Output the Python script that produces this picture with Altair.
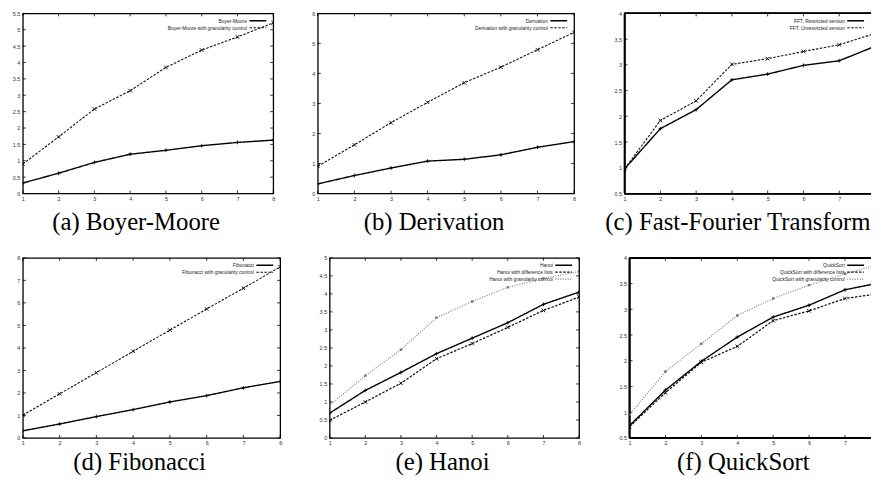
import altair as alt
import pandas as pd

x_vals = [1, 2, 3, 4, 5, 6, 7, 8]

# (a) Boyer-Moore
bm_names = ["Boyer-Moore", "Boyer-Moore with granularity control"]
bm_plain = [0.32, 0.62, 0.95, 1.20, 1.32, 1.46, 1.56, 1.63]
bm_gran = [0.90, 1.73, 2.58, 3.14, 3.85, 4.38, 4.78, 5.21]

# (b) Derivation
dv_names = ["Derivation", "Derivation with granularity control"]
dv_plain = [0.32, 0.60, 0.85, 1.08, 1.14, 1.29, 1.54, 1.73]
dv_gran = [0.91, 1.62, 2.36, 3.04, 3.69, 4.21, 4.79, 5.37]

# (c) FFT
fft_names = ["FFT, Restricted version", "FFT, Unrestricted version"]
fft_restr = [0.98, 1.76, 2.13, 2.71, 2.82, 2.99, 3.08, 3.36]
fft_unres = [0.98, 1.92, 2.30, 3.01, 3.12, 3.26, 3.39, 3.61]

# (d) Fibonacci
fib_names = ["Fibonacci", "Fibonacci with granularity control"]
fib_plain = [0.32, 0.62, 0.95, 1.26, 1.60, 1.88, 2.23, 2.51]
fib_gran = [1.01, 1.96, 2.90, 3.85, 4.79, 5.73, 6.65, 7.60]

# (e) Hanoi
han_names = ["Hanoi", "Hanoi with difference lists", "Hanoi with granularity control"]
han_plain = [0.69, 1.32, 1.82, 2.34, 2.77, 3.20, 3.71, 4.05]
han_diff = [0.49, 1.00, 1.52, 2.20, 2.62, 3.07, 3.54, 3.91]
han_gran = [0.91, 1.73, 2.45, 3.34, 3.79, 4.18, 4.43, 4.62]

# (f) QuickSort
qs_names = ["QuickSort", "QuickSort with difference lists", "QuickSort with granularity control"]
qs_plain = [0.74, 1.43, 1.99, 2.46, 2.85, 3.08, 3.38, 3.52]
qs_diff = [0.72, 1.38, 1.97, 2.28, 2.78, 2.97, 3.21, 3.31]
qs_gran = [0.95, 1.79, 2.33, 2.88, 3.21, 3.47, 3.69, 3.88]

captions = ["(a) Boyer-Moore", "(b) Derivation", "(c) Fast-Fourier Transform",
            "(d) Fibonacci", "(e) Hanoi", "(f) QuickSort"]

DASHES = [[1, 0], [2.5, 1.5], [1, 1.5]]
COLORS = ["#000000", "#111111", "#777777"]
WIDTHS = [1.4, 1.1, 0.9]
SHAPES = ["M-1,0L1,0M0,-1L0,1", "M-1,-1L1,1M-1,1L1,-1", "square"]
FILLED = [False, False, True]
H = 182
LABEL_FONT = "Liberation Sans"
CAP_FONT = "Liberation Serif, Times New Roman, Times, serif"


def frange(a, b, s):
    out = []
    v = a
    while v <= b + 1e-9:
        out.append(round(v, 3))
        v += s
    return out


def panel(caption, names, series, ymin, ymax, ystep, W, xmax=8, cap_offset=4, cap_dx=-12,
          open_right=False):
    rows = []
    for name, vals in zip(names, series):
        for x, v in zip(x_vals, vals):
            rows.append({"x": x, "y": v, "series": name})
    df = pd.DataFrame(rows)
    n = len(names)
    yticks = frange(ymin, ymax, ystep)
    xticks = [v for v in x_vals if v <= xmax]
    xs = alt.Scale(domain=[1, xmax], nice=False, zero=False)
    ys = alt.Scale(domain=[ymin, ymax], nice=False, zero=False)
    xaxis = alt.Axis(values=xticks, format="~g", title=None, domain=False, ticks=False,
                     grid=False, labelFontSize=5.5, labelFont=LABEL_FONT, labelColor="#333",
                     labelPadding=3, labelFlush=False, labelOverlap=False)
    yaxis = alt.Axis(values=yticks, format="~g", title=None, domain=False, ticks=False,
                     grid=False, labelFontSize=5.5, labelFont=LABEL_FONT, labelColor="#333",
                     labelPadding=3, labelOverlap=False)
    leg = alt.Legend(title=None, orient="top-right", offset=4, padding=0,
                     symbolType="M-3.4,0L3.4,0", symbolSize=25, symbolStrokeWidth=1,
                     labelFontSize=5, labelFont=LABEL_FONT, labelColor="#222",
                     labelAlign="right", labelOffset={"expr": "-14.5"}, rowPadding=0,
                     labelLimit=300, symbolFillColor="transparent")
    dom = names
    base = alt.Chart(df)
    line = base.mark_line(clip=True).encode(
        x=alt.X("x:Q", scale=xs, axis=xaxis),
        y=alt.Y("y:Q", scale=ys, axis=yaxis),
        strokeDash=alt.StrokeDash("series:N", scale=alt.Scale(domain=dom, range=DASHES[:n]), legend=leg),
        color=alt.Color("series:N", scale=alt.Scale(domain=dom, range=COLORS[:n]), legend=leg),
        strokeWidth=alt.StrokeWidth("series:N", scale=alt.Scale(domain=dom, range=WIDTHS[:n]), legend=leg),
    )
    point_layers = []
    for i, name in enumerate(names):
        point_layers.append(
            base.transform_filter(alt.datum.series == name).mark_point(
                clip=True, shape=SHAPES[i], filled=FILLED[i], size=14 if i < 2 else 6,
                strokeWidth=0.9, color=COLORS[i] if i == 2 else "black", opacity=1,
            ).encode(
                x=alt.X("x:Q", scale=xs, axis=xaxis),
                y=alt.Y("y:Q", scale=ys, axis=yaxis),
            )
        )
    xt = alt.Chart(pd.DataFrame({"x": xticks}))
    yt = alt.Chart(pd.DataFrame({"y": yticks}))
    tick_style = dict(color="black", strokeWidth=0.8)
    layers = [
        xt.mark_rule(**tick_style).encode(x=alt.X("x:Q", scale=xs, axis=xaxis), y=alt.value(H), y2=alt.value(H - 3)),
        xt.mark_rule(**tick_style).encode(x=alt.X("x:Q", scale=xs, axis=xaxis), y=alt.value(0), y2=alt.value(3)),
        yt.mark_rule(**tick_style).encode(y=alt.Y("y:Q", scale=ys, axis=yaxis), x=alt.value(0), x2=alt.value(3)),
    ]
    if not open_right:
        layers.append(yt.mark_rule(**tick_style).encode(y=alt.Y("y:Q", scale=ys, axis=yaxis), x=alt.value(W), x2=alt.value(W - 3)))
    if open_right:
        border = dict(color="black", strokeWidth=1.3)
        layers += [
            xt.mark_rule(**border).encode(x=alt.value(0), y=alt.value(0), y2=alt.value(H)),
            xt.mark_rule(**border).encode(x=alt.value(0), x2=alt.value(W), y=alt.value(0)),
            xt.mark_rule(**border).encode(x=alt.value(0), x2=alt.value(W), y=alt.value(H)),
        ]
    layers += [line] + point_layers
    ch = alt.layer(*layers).properties(
        width=W, height=H,
        title=alt.TitleParams(caption, orient="bottom", anchor="middle", fontSize=25,
                              font=CAP_FONT, fontWeight="normal", color="black",
                              offset=cap_offset, dx=cap_dx),
    )
    if open_right:
        ch = ch.properties(view=alt.ViewBackground(stroke="transparent"))
    return ch.resolve_scale(strokeDash="independent", color="independent", strokeWidth="independent")


RIGHT = 879
pa = panel(captions[0], bm_names, [bm_plain, bm_gran], 0, 5.5, 0.5, 253, cap_offset=8)
pb = panel(captions[1], dv_names, [dv_plain, dv_gran], 0, 6, 1, 259, cap_offset=8)
wc = RIGHT - 630
pc = panel(captions[2], fft_names, [fft_restr, fft_unres], 0.5, 4, 0.5, wc,
           xmax=1 + 7 * wc / 253, cap_offset=8, cap_dx=-12 + (253 - wc) / 2, open_right=True)
pd_ = panel(captions[3], fib_names, [fib_plain, fib_gran], 0, 8, 1, 260)
pe = panel(captions[4], han_names, [han_plain, han_diff, han_gran], 0, 5, 0.5, 252)
wf = RIGHT - 635
pf = panel(captions[5], qs_names, [qs_plain, qs_diff, qs_gran], 0.5, 4, 0.5, wf,
           xmax=1 + 7 * wf / 254, cap_dx=-12 + (254 - wf) / 2, open_right=True)

top = alt.hconcat(pa, alt.hconcat(pb, pc, spacing=51, bounds="flush"), spacing=45, bounds="flush")
bottom = alt.hconcat(pd_, alt.hconcat(pe, pf, spacing=51, bounds="flush"), spacing=50, bounds="flush")

chart = alt.vconcat(top, bottom, spacing=19).resolve_scale(
    strokeDash="independent", color="independent", strokeWidth="independent"
).configure_view(stroke="black", strokeWidth=1.3).properties(
    padding={"left": 3, "top": 0, "right": 0, "bottom": 0}
)

chart.save("out.html", embed_options={"renderer": "svg", "actions": False})
